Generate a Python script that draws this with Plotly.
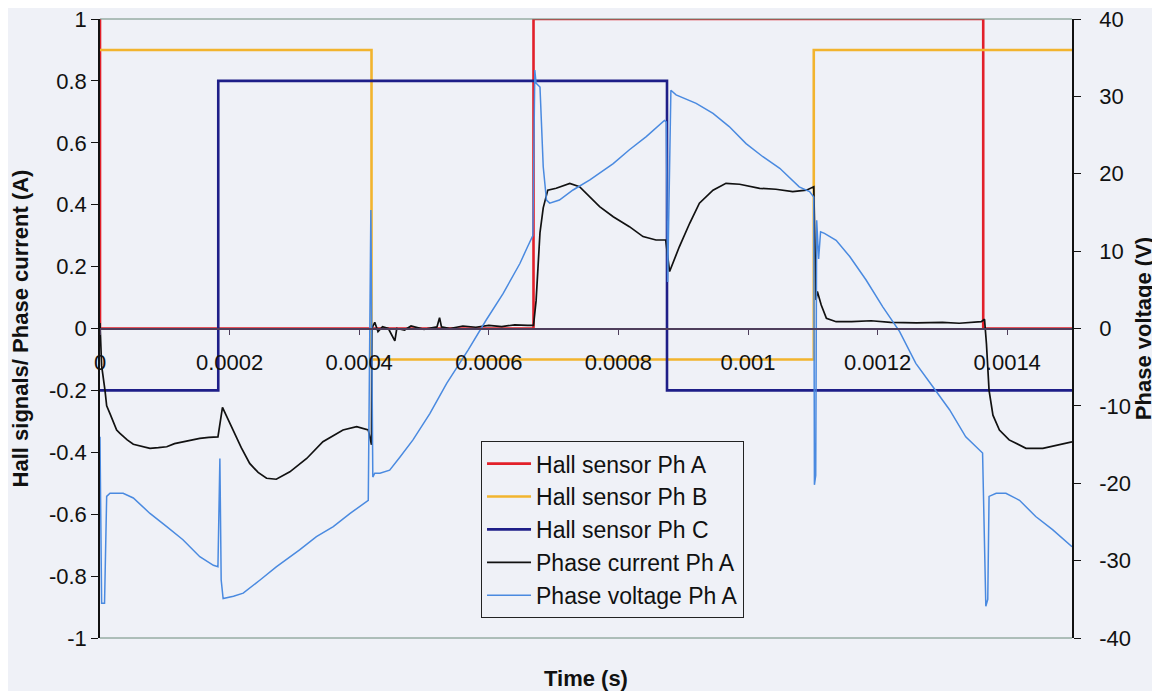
import plotly.graph_objects as go

# ---------------- data ----------------
hall_a_t = [0, 0, 0.000669, 0.001363, 0.0015]
hall_a_v = [1, 0, 1, 0, 0]
hall_b_t = [0, 0.000419, 0.0011015, 0.0015]
hall_b_v = [0.9, -0.1, 0.9, 0.9]
hall_c_t = [0, 0.0001825, 0.000875, 0.0015]
hall_c_v = [-0.2, 0.8, -0.2, -0.2]

cur_t = [0, 0.0000025, 0.0000077, 0.0000103, 0.0000154, 0.0000257, 0.0000308, 0.000042,
         0.0000514, 0.0000668, 0.0000771, 0.00009, 0.000103, 0.000115, 0.000128, 0.00014,
         0.000154, 0.000168, 0.000182, 0.000189, 0.000197, 0.000206, 0.000218, 0.000231,
         0.000244, 0.000257, 0.000272, 0.000293, 0.000319, 0.000344, 0.00036, 0.000375,
         0.000396, 0.000414, 0.000419, 0.0004195, 0.000424, 0.000429, 0.000436, 0.000445,
         0.000455, 0.000458, 0.00047, 0.00048, 0.0005, 0.00052, 0.000524, 0.000527,
         0.00054, 0.00056, 0.00058, 0.0006, 0.00062, 0.00064, 0.00066, 0.000669,
         0.000673, 0.000679, 0.000684, 0.000691, 0.000704, 0.000725, 0.00074, 0.000756,
         0.000771, 0.000792, 0.000817, 0.000838, 0.000858, 0.000873, 0.000875, 0.000879,
         0.000894, 0.00091, 0.000925, 0.000946, 0.000966, 0.000987, 0.001018, 0.001043,
         0.001069, 0.00109, 0.0011015, 0.001105, 0.001107, 0.001113, 0.001121, 0.001136,
         0.00116, 0.00119, 0.00122, 0.00126, 0.0013, 0.001326, 0.00136, 0.001365,
         0.001368, 0.001372, 0.001378, 0.001388, 0.001403, 0.001429, 0.001455, 0.00148,
         0.0015]
cur_i = [0.018, -0.12, -0.2, -0.25, -0.275, -0.328, -0.339, -0.36,
         -0.374, -0.382, -0.387, -0.385, -0.382, -0.372, -0.366, -0.36,
         -0.355, -0.352, -0.35, -0.255, -0.29, -0.328, -0.385, -0.436,
         -0.465, -0.484, -0.487, -0.463, -0.42, -0.366, -0.345, -0.328,
         -0.317, -0.328, -0.376, 0.0, 0.02, -0.01, 0.006, 0.0,
         -0.04, 0.0, -0.005, 0.008, -0.003, 0.005, 0.035, 0.005,
         0.0, 0.008, 0.004, 0.01, 0.006, 0.012, 0.01, 0.01,
         0.09, 0.31, 0.39, 0.447, 0.453, 0.469, 0.458, 0.426,
         0.394, 0.361, 0.329, 0.297, 0.286, 0.286, 0.25, 0.184,
         0.264, 0.34, 0.405, 0.447, 0.469, 0.466, 0.453, 0.45,
         0.442, 0.447, 0.458, 0.092, 0.12, 0.076, 0.033, 0.022,
         0.022, 0.025, 0.02, 0.018, 0.02, 0.017, 0.022, 0.03,
         -0.05, -0.2, -0.28, -0.328, -0.36, -0.387, -0.387, -0.376,
         -0.366]

volt_t = [0, 0.0000025, 0.000007, 0.0000103, 0.0000154, 0.0000357, 0.0000514, 0.0000771,
          0.000103, 0.000128, 0.000154, 0.000175, 0.000182, 0.000185, 0.000187, 0.00019,
          0.000206, 0.000221, 0.000247, 0.000272, 0.000308, 0.000334, 0.00036, 0.000386,
          0.000414, 0.000418, 0.000421, 0.000424, 0.000432, 0.000447, 0.000463, 0.000483,
          0.000509, 0.000535, 0.000568, 0.000596, 0.000622, 0.000648, 0.00066, 0.000668,
          0.000671, 0.000673, 0.000679, 0.000684, 0.000689, 0.000694, 0.000709, 0.00073,
          0.000756, 0.000792, 0.000817, 0.000843, 0.000871, 0.000874, 0.000876, 0.000879,
          0.000881, 0.000889, 0.00092, 0.000946, 0.000971, 0.000997, 0.001023, 0.001049,
          0.001079, 0.001095, 0.0011015, 0.0011025, 0.0011045, 0.001106, 0.001109, 0.001112,
          0.001118, 0.001136, 0.001157, 0.001182, 0.001208, 0.001234, 0.001259, 0.001285,
          0.001311, 0.001336, 0.001362, 0.001367, 0.00137, 0.001372, 0.001383, 0.001398,
          0.001419, 0.001444, 0.00147, 0.0015]
volt_v = [-14.0, -35.5, -35.5, -21.7, -21.3, -21.3, -21.9, -23.9,
          -25.6, -27.3, -29.5, -30.6, -30.8, -16.8, -32.5, -34.9,
          -34.6, -34.2, -32.5, -30.8, -28.6, -26.9, -25.6, -23.9,
          -22.2, 15.3, -19.2, -18.7, -18.7, -18.3, -16.6, -14.4,
          -11.0, -7.1, -2.8, 1.1, 4.5, 8.4, 10.6, 12.0,
          33.4, 31.7, 31.2, 20.9, 16.6, 16.2, 16.6, 17.9,
          19.2, 21.3, 23.1, 24.8, 26.9, 26.7, 6.0, 20.0,
          30.8, 30.2, 29.1, 27.8, 26.1, 23.9, 22.2, 20.7,
          18.3, 17.7, 17.0, -20.2, -19.0, 14.0, 9.0, 12.5,
          12.3, 11.4, 9.3, 6.3, 2.8, -0.4, -4.5, -7.5,
          -10.5, -14.0, -16.1, -35.9, -35.0, -21.7, -21.3, -21.3,
          -22.2, -24.3, -26.0, -28.2]

x_ticks = [0, 0.0002, 0.0004, 0.0006, 0.0008, 0.001, 0.0012, 0.0014]
x_labels = ["0", "0.0002", "0.0004", "0.0006", "0.0008", "0.001", "0.0012", "0.0014"]
yl_ticks = [-1, -0.8, -0.6, -0.4, -0.2, 0, 0.2, 0.4, 0.6, 0.8, 1]
yl_labels = ["-1", "-0.8", "-0.6", "-0.4", "-0.2", "0", "0.2", "0.4", "0.6", "0.8", "1"]
yr_ticks = [-40, -30, -20, -10, 0, 10, 20, 30, 40]
yr_labels = ["-40", "-30", "-20", "-10", "0", "10", "20", "30", "40"]

# ---------------- figure ----------------
FONT = "Liberation Sans, Arial, sans-serif"
BG = "#eff1f7"

fig = go.Figure()
fig.add_trace(go.Scatter(x=hall_a_t, y=hall_a_v, name="Hall sensor Ph A", mode="lines",
                         line=dict(color="#e2202a", width=2.6, shape="hv")))
fig.add_trace(go.Scatter(x=hall_b_t, y=hall_b_v, name="Hall sensor Ph B", mode="lines",
                         line=dict(color="#f2b42e", width=2.6, shape="hv")))
fig.add_trace(go.Scatter(x=hall_c_t, y=hall_c_v, name="Hall sensor Ph C", mode="lines",
                         line=dict(color="#1e1e88", width=2.6, shape="hv")))
fig.add_trace(go.Scatter(x=cur_t, y=cur_i, name="Phase current Ph A", mode="lines",
                         line=dict(color="#111111", width=1.7)))
fig.add_trace(go.Scatter(x=volt_t, y=volt_v, name="Phase voltage Ph A", mode="lines",
                         yaxis="y2", line=dict(color="#4a8ae0", width=1.5)))

fig.update_layout(
    width=1152, height=683,
    margin=dict(l=92, r=88, t=11, b=53, autoexpand=False),
    paper_bgcolor=BG, plot_bgcolor=BG,
    font=dict(family=FONT, size=22, color="#111111"),
    showlegend=True,
    legend=dict(x=0.392, y=0.318, xanchor="left", yanchor="top",
                bgcolor="rgba(0,0,0,0)", bordercolor="#222222", borderwidth=1,
                itemwidth=44,
                font=dict(family=FONT, size=23, color="#111111")),
    xaxis=dict(range=[0, 0.0015], tickvals=x_ticks, ticktext=x_labels,
               anchor="free", position=0.5, showline=True, linecolor="#4e3e5c",
               linewidth=1.5, ticks="outside", ticklen=6, tickcolor="#4e3e5c",
               ticklabelstandoff=8, showgrid=False, zeroline=False, automargin=False,
               ticklabeloverflow="allow", tickfont=dict(size=22)),
    yaxis=dict(range=[-1, 1], tickvals=yl_ticks, ticktext=yl_labels, domain=[0, 1],
               showline=True, linecolor="#111111", linewidth=1.5, ticks="outside",
               ticklen=7, tickcolor="#111111", showgrid=False, zeroline=False,
               automargin=False, ticklabeloverflow="allow",
               title=dict(text="Hall signals/ Phase current (A)", standoff=22,
                          font=dict(size=22, weight="bold"))),
    yaxis2=dict(range=[-40, 40], tickvals=yr_ticks, ticktext=yr_labels,
                overlaying="y", side="right", showline=True, linecolor="#111111",
                linewidth=1.5, ticks="outside", ticklen=7, tickcolor="#111111",
                ticklabelstandoff=14, showgrid=False, zeroline=False, automargin=False,
                ticklabeloverflow="allow",
                title=dict(text="Phase voltage (V)", standoff=3,
                           font=dict(size=22, weight="bold"))),
    shapes=[
        dict(type="line", xref="paper", yref="paper", x0=0, x1=1, y0=1, y1=1,
             line=dict(color="#6a8a7a", width=1)),
        dict(type="line", xref="paper", yref="paper", x0=0, x1=1, y0=0, y1=0,
             line=dict(color="#6a8a7a", width=1)),
    ],
    annotations=[
        dict(text="<b>Time (s)</b>", xref="paper", yref="paper", x=0.5, y=0,
             xanchor="center", yanchor="top", yshift=-26, showarrow=False,
             font=dict(family=FONT, size=22, color="#111111")),
    ],
)

fig.write_html("out.html")
